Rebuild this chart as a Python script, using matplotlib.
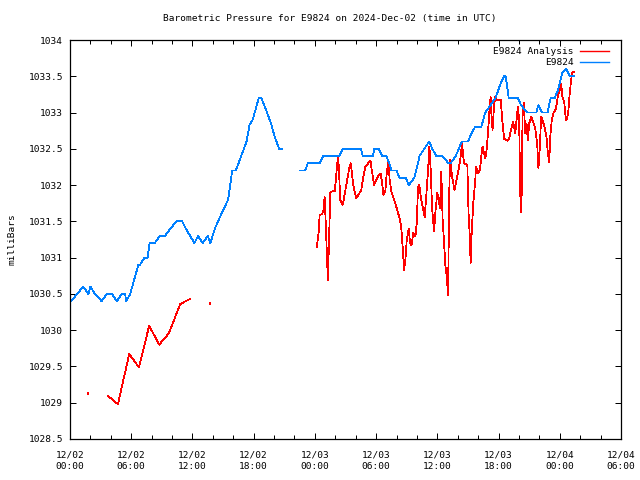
import numpy as np
import matplotlib
matplotlib.use('Agg')
import matplotlib.pyplot as plt
import matplotlib.dates as mdates
from matplotlib.ticker import FuncFormatter
from datetime import datetime, timedelta

nan = float('nan')
start = datetime(2024, 12, 2, 0, 0)
station = "E9824"
title = "Barometric Pressure for E9824 on 2024-Dec-02 (time in UTC)"
ylabel = "milliBars"

# Observed station pressure (hours after 12/02 00:00 UTC, mb)
obs_hours = [0.1, 1.3, 1.8, 2.0, 2.45, 3.1, 3.6, 4.1, 4.6, 5.05, 5.4, 5.5, 5.9,
             6.7, 6.85, 7.3, 7.6, 7.8, 8.3, 8.8, 9.3, 10.4, 11.0, 11.35, 12.2,
             12.55, 13.0, 13.5, 13.75, 14.2, 14.5, 15.5, 15.9, 16.25, 17.3, 17.6,
             17.9, 18.5, 18.75, 19.1, 19.7, 20.05, 20.5, 20.8,
             21.6,
             22.5, 23.05, 23.3, 24.45, 24.8, 26.4, 26.75, 28.5, 28.7, 29.7, 29.8,
             30.25, 30.6, 31.0, 31.3, 31.5, 32.0, 32.3, 32.9, 33.2, 33.75, 34.1,
             34.25, 35.2, 35.5, 35.9, 36.5, 37.1, 37.3, 37.8, 38.4, 39.0, 39.3,
             39.7, 40.3, 40.5, 40.7, 41.2, 41.7, 42.2, 42.55, 42.7, 43.0, 43.9,
             44.2, 44.85, 45.7, 45.9, 46.25, 46.8, 47.1, 47.5, 47.8, 48.25, 48.65,
             49.0, 49.4]
obs_mb = [1030.4, 1030.6, 1030.5, 1030.6, 1030.5, 1030.4, 1030.5, 1030.5, 1030.4,
          1030.5, 1030.5, 1030.4, 1030.5,
          1030.9, 1030.9, 1031.0, 1031.0, 1031.2, 1031.2, 1031.3, 1031.3, 1031.5,
          1031.5, 1031.4, 1031.2, 1031.3, 1031.2, 1031.3, 1031.2, 1031.4, 1031.5,
          1031.8, 1032.2, 1032.2, 1032.6, 1032.83, 1032.9, 1033.2, 1033.2, 1033.08,
          1032.85, 1032.67, 1032.5, 1032.5,
          nan,
          1032.2, 1032.2, 1032.3, 1032.3, 1032.4, 1032.4, 1032.5, 1032.5, 1032.4,
          1032.4, 1032.5, 1032.5, 1032.4, 1032.4, 1032.3, 1032.2, 1032.2, 1032.1,
          1032.1, 1032.0, 1032.1, 1032.3, 1032.4, 1032.6, 1032.5, 1032.4, 1032.4,
          1032.3, 1032.3, 1032.4, 1032.6, 1032.6, 1032.7, 1032.8, 1032.8, 1032.9,
          1033.0, 1033.1, 1033.2, 1033.4, 1033.5, 1033.5, 1033.2, 1033.2, 1033.1,
          1033.0, 1033.0, 1033.1, 1033.0, 1033.0, 1033.2, 1033.2, 1033.3, 1033.55,
          1033.6, 1033.5, 1033.5]

# Analysis pressure (hours after 12/02 00:00 UTC, mb)
ana_hours = [1.75, 1.8, 2.8,
             3.75, 4.7, 5.8, 6.75, 7.76, 8.74, 9.7, 10.8, 11.75, 12.7,
             13.7, 13.75, 19.0,
             24.19, 24.39, 24.46, 24.72, 24.85, 24.95, 25.01, 25.11, 25.21, 25.27,
             25.34, 25.44, 25.50, 25.83, 25.95, 26.09, 26.25, 26.35, 26.48, 26.74,
             26.90, 27.13, 27.39, 27.52, 27.66, 27.81, 28.05, 28.24, 28.54, 28.76,
             28.96, 29.22, 29.45, 29.57, 29.81, 30.00, 30.26, 30.45, 30.59, 30.72,
             30.91, 31.04, 31.18, 31.24, 31.33, 31.50, 31.70, 31.89, 32.02, 32.21,
             32.35, 32.48, 32.61, 32.74, 32.87, 33.00, 33.19, 33.33, 33.46, 33.65,
             33.85, 33.98, 34.11, 34.24, 34.37, 34.56, 34.76, 34.90, 35.09, 35.22,
             35.35, 35.48, 35.68, 35.81, 36.00, 36.13, 36.26, 36.39, 36.52, 36.66,
             36.78, 36.91, 37.05, 37.17, 37.24, 37.37, 37.50, 37.69, 37.89, 38.08,
             38.28, 38.42, 38.61, 38.94, 39.06, 39.20, 39.26, 39.33, 39.52, 39.72,
             39.79, 39.98, 40.18, 40.30, 40.43, 40.57, 40.70, 40.82, 40.96, 41.09,
             41.22, 41.31, 41.41, 41.55, 41.67, 41.74, 42.23, 42.33, 42.46, 42.55,
             42.88, 43.04, 43.21, 43.44, 43.63, 43.76, 43.89, 44.02, 44.12, 44.22,
             44.29, 44.35, 44.48, 44.61, 44.74, 44.87, 45.00, 45.20, 45.39, 45.59,
             45.78, 45.91, 46.05, 46.17, 46.30, 46.50, 46.69, 46.83, 46.96, 47.09,
             47.22, 47.42, 47.61, 47.81, 48.00, 48.13, 48.26, 48.45, 48.59, 48.72,
             48.85, 48.98, 49.11, 49.24, 49.43]
ana_mb = [1029.13, 1029.12, nan,
          1029.09, 1028.98, 1029.67, 1029.49, 1030.06, 1029.80, 1029.96, 1030.36,
          1030.43, nan,
          1030.37, 1030.36, nan,
          1031.14, 1031.38, 1031.59, 1031.60, 1031.66, 1031.84, 1031.67, 1031.29,
          1030.90, 1030.69, 1031.01, 1031.52, 1031.90, 1031.92, 1031.91, 1032.14,
          1032.39, 1032.25, 1031.79, 1031.73, 1031.86, 1032.05, 1032.25, 1032.30,
          1032.12, 1031.96, 1031.82, 1031.86, 1031.93, 1032.12, 1032.26, 1032.30,
          1032.34, 1032.21, 1032.00, 1032.07, 1032.14, 1032.16, 1032.02, 1031.86,
          1031.93, 1032.16, 1032.32, 1032.25, 1032.07, 1031.91, 1031.82, 1031.75,
          1031.68, 1031.59, 1031.52, 1031.38, 1031.13, 1030.83, 1030.97, 1031.24,
          1031.40, 1031.20, 1031.17, 1031.34, 1031.29, 1031.47, 1031.98, 1032.00,
          1031.84, 1031.70, 1031.56, 1031.82, 1032.21, 1032.53, 1032.21, 1031.70,
          1031.36, 1031.63, 1031.89, 1031.79, 1031.68, 1032.18, 1031.52, 1031.20,
          1030.90, 1030.76, 1030.48, 1031.89, 1032.35, 1032.21, 1032.07, 1031.93,
          1032.07, 1032.21, 1032.39, 1032.58, 1032.30, 1032.28, 1031.61, 1031.24,
          1030.92, 1031.24, 1031.75, 1032.07, 1032.25, 1032.16, 1032.21, 1032.39,
          1032.53, 1032.44, 1032.37, 1032.48, 1032.71, 1032.99, 1033.22, 1032.94,
          1032.76, 1033.08, 1033.22, 1033.17, 1033.17, 1032.94, 1032.76, 1032.64,
          1032.61, 1032.64, 1032.76, 1032.87, 1032.71, 1032.90, 1033.08, 1032.90,
          1031.89, 1031.63, 1032.02, 1032.99, 1033.13, 1032.71, 1032.85, 1032.62,
          1032.85, 1032.94, 1032.87, 1032.78, 1032.58, 1032.23, 1032.53, 1032.94,
          1032.90, 1032.80, 1032.67, 1032.44, 1032.32, 1032.71, 1032.90, 1033.01,
          1033.04, 1033.22, 1033.31, 1033.40, 1033.22, 1033.13, 1032.90, 1032.92,
          1033.04, 1033.27, 1033.45, 1033.56, 1033.56]

x_hours_span = 54
y_min, y_max, y_step = 1028.5, 1034.0, 0.5

plt.rcParams['font.family'] = ['DejaVu Sans Mono']
plt.rcParams['font.size'] = 6.8

fig = plt.figure(figsize=(6.4, 4.8), dpi=100)
ax = fig.add_axes([70 / 640, 41 / 480, 551 / 640, 399 / 480])

obs_t = [start + timedelta(hours=h) for h in obs_hours]
ana_t = [start + timedelta(hours=h) for h in ana_hours]

red = '#ff0000'
blue = '#0080ff'
ax.plot(ana_t, ana_mb, color=red, lw=0.55, antialiased=False, label=f'{station} Analysis')
ax.plot(obs_t, obs_mb, color=blue, lw=0.55, antialiased=False, label=station)

ax.set_xlim(start, start + timedelta(hours=x_hours_span))
ax.set_ylim(y_min, y_max)
ax.set_yticks(np.arange(y_min, y_max + 0.001, y_step))
ax.yaxis.set_major_formatter(FuncFormatter(lambda v, p: f'{v:g}'))
ax.xaxis.set_major_locator(mdates.HourLocator(byhour=range(0, 24, 6)))
ax.xaxis.set_minor_locator(mdates.HourLocator(byhour=range(0, 24, 2)))
ax.xaxis.set_major_formatter(mdates.DateFormatter('%m/%d\n%H:%M'))
ax.tick_params(which='both', direction='in', top=True, right=True, width=0.72, colors='black')
ax.tick_params(which='major', length=4.5)
ax.tick_params(which='minor', length=3)
ax.tick_params(axis='x', which='major', pad=8)
ax.tick_params(axis='y', which='major', pad=5)
for lab in ax.get_xticklabels():
    lab.set_linespacing(1.45)
for s in ax.spines.values():
    s.set_linewidth(0.9)

fig.text(330 / 640, 1 - 19 / 480, title, ha='center', va='center', fontsize=6.8)
ax.set_ylabel(ylabel, fontsize=6.8, labelpad=9)

leg = ax.legend(loc='upper right', frameon=False, markerfirst=False,
                handlelength=3.0, handletextpad=0.7, labelspacing=0.15,
                borderaxespad=0.9, fontsize=6.8)
leg.set_bbox_to_anchor((1.0, 1.012), transform=ax.transAxes)
for line in leg.get_lines():
    line.set_linewidth(1.0)
    line.set_antialiased(True)

fig.savefig('out.png', dpi=100)
